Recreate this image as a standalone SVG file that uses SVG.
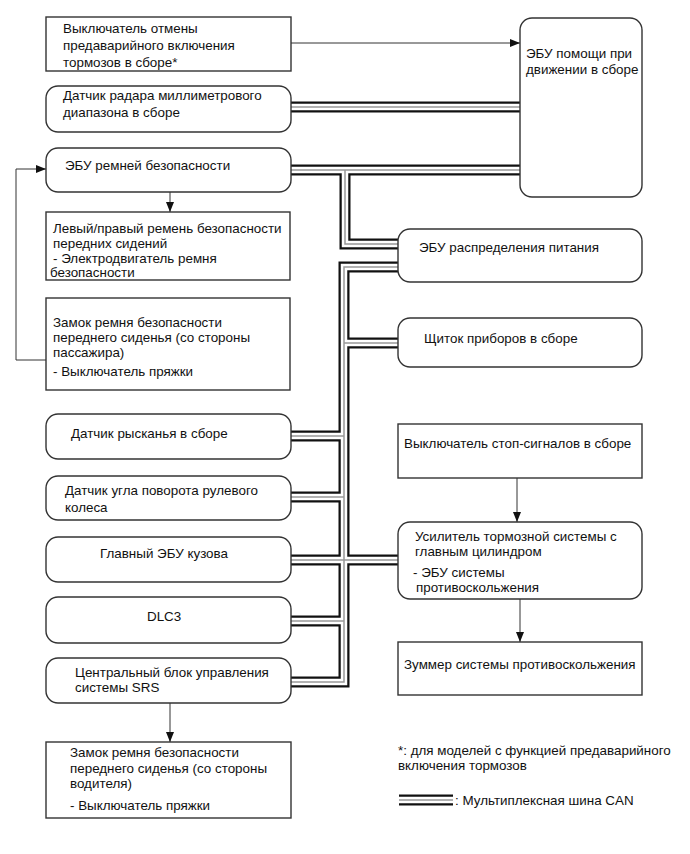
<svg xmlns="http://www.w3.org/2000/svg" width="690" height="854" viewBox="0 0 690 854">
<style>
text{font-family:"Liberation Sans",Arial,sans-serif;font-size:13.4px;fill:#111}
.box{fill:#fff;stroke:#333;stroke-width:1.4}
.ln{fill:none;stroke:#333;stroke-width:1}
.b1{fill:none;stroke:#111;stroke-width:11;stroke-linejoin:miter}
.b2{fill:none;stroke:#fff;stroke-width:6.5;stroke-linejoin:miter}
.b3{fill:none;stroke:#999;stroke-width:1.5;stroke-linejoin:miter}
</style>
<defs>
<marker id="ah" viewBox="0 0 10 10" refX="10" refY="5" markerWidth="10" markerHeight="10" markerUnits="userSpaceOnUse" orient="auto">
<path d="M0,1 L10,5 L0,9 Z" fill="#111"/>
</marker>
<g id="busPaths">
<path d="M291,107 H520"/>
<path d="M291,170 H520"/>
<path d="M345,170 V244 H398"/>
<path d="M398,267 H344 V682 H291"/>
<path d="M344,343 H398"/>
<path d="M291,436 H344"/>
<path d="M291,497 H344"/>
<path d="M291,560 H398"/>
<path d="M291,621 H344"/>
<path d="M399,800 H453"/>
</g>
</defs>
<g id="connectors">
<use href="#busPaths" class="b1"/>
<use href="#busPaths" class="b2"/>
<use href="#busPaths" class="b3"/>
<path class="ln" d="M291,43 H520" marker-end="url(#ah)"/>
<path class="ln" d="M170,192 V212" marker-end="url(#ah)"/>
<path class="ln" d="M46,360 H16 V169 H46" marker-end="url(#ah)"/>
<path class="ln" d="M170,703 V742" marker-end="url(#ah)"/>
<path class="ln" d="M517,478 V522" marker-end="url(#ah)"/>
<path class="ln" d="M520,599 V642" marker-end="url(#ah)"/>
</g>
<g id="n1"><rect class="box" x="46" y="17" width="245" height="54"/>
<text x="63" y="33">Выключатель отмены</text><text x="63" y="50">предаварийного включения</text><text x="63" y="67">тормозов в сборе*</text></g>
<g id="n2"><rect class="box" x="46" y="86" width="245" height="46" rx="12"/>
<text x="63" y="100">Датчик радара миллиметрового</text><text x="63" y="117">диапазона в сборе</text></g>
<g id="n3"><rect class="box" x="46" y="148" width="245" height="44" rx="12"/>
<text x="65" y="170">ЭБУ ремней безопасности</text></g>
<g id="n4"><rect class="box" x="46" y="212" width="244" height="68"/>
<text x="53" y="233">Левый/правый ремень безопасности</text><text x="53" y="248">передних сидений</text><text x="53" y="263">- Электродвигатель ремня</text><text x="50" y="277">безопасности</text></g>
<g id="n5"><rect class="box" x="46" y="298" width="244" height="92"/>
<text x="53" y="327">Замок ремня безопасности</text><text x="53" y="342">переднего сиденья (со стороны</text><text x="53" y="357">пассажира)</text><text x="53" y="376">- Выключатель пряжки</text></g>
<g id="n6"><rect class="box" x="46" y="414" width="245" height="45" rx="12"/>
<text x="71" y="438">Датчик рысканья в сборе</text></g>
<g id="n7"><rect class="box" x="46" y="476" width="245" height="44" rx="12"/>
<text x="65" y="495">Датчик угла поворота рулевого</text><text x="65" y="512">колеса</text></g>
<g id="n8"><rect class="box" x="46" y="537" width="245" height="45" rx="12"/>
<text x="100" y="558">Главный ЭБУ кузова</text></g>
<g id="n9"><rect class="box" x="46" y="597" width="245" height="46" rx="12"/>
<text x="147" y="621">DLC3</text></g>
<g id="n10"><rect class="box" x="46" y="658" width="245" height="45" rx="12"/>
<text x="75" y="677">Центральный блок управления</text><text x="75" y="692">системы SRS</text></g>
<g id="n11"><rect class="box" x="46" y="742" width="245" height="76"/>
<text x="70" y="757">Замок ремня безопасности</text><text x="70" y="773">переднего сиденья (со стороны</text><text x="70" y="788">водителя)</text><text x="70" y="810">- Выключатель пряжки</text></g>
<g id="n12"><rect class="box" x="520" y="18" width="122" height="179" rx="12"/>
<text x="526" y="58">ЭБУ помощи при</text><text x="526" y="74">движении в сборе</text></g>
<g id="n13"><rect class="box" x="398" y="229" width="244" height="53" rx="12"/>
<text x="419" y="252">ЭБУ распределения питания</text></g>
<g id="n14"><rect class="box" x="398" y="318" width="244" height="49" rx="12"/>
<text x="424" y="343">Щиток приборов в сборе</text></g>
<g id="n15"><rect class="box" x="398" y="424" width="244" height="54"/>
<text x="404" y="448">Выключатель стоп-сигналов в сборе</text></g>
<g id="n16"><rect class="box" x="398" y="522" width="244" height="77" rx="12"/>
<text x="415" y="541">Усилитель тормозной системы с</text><text x="415" y="556">главным цилиндром</text><text x="413" y="577">- ЭБУ системы</text><text x="416" y="592">противоскольжения</text></g>
<g id="n17"><rect class="box" x="398" y="642" width="244" height="53"/>
<text x="404" y="669">Зуммер системы противоскольжения</text></g>
<g id="legend">
<text x="398" y="755">*: для моделей с функцией предаварийного</text>
<text x="398" y="770">включения тормозов</text>
<text x="455" y="805">: Мультиплексная шина CAN</text>
</g>
</svg>
